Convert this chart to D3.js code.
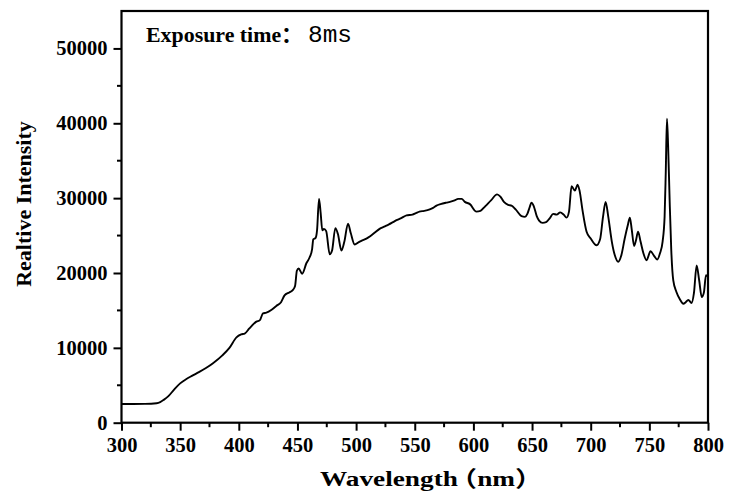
<!DOCTYPE html>
<html><head><meta charset="utf-8">
<script src="https://cdn.jsdelivr.net/npm/d3@7"></script>
<style>
body{margin:0;background:#fff;}
svg{display:block;}
text{font-family:"Liberation Serif","Times New Roman",serif;font-weight:bold;fill:#000;}
</style></head>
<body><svg id="c" width="730" height="493"></svg>
<script>
// Wavelength (nm)
const wavelength = [300,310,320,330,333,336,340,345,350,355,360,366,372,378,386,392,398,402,405,409,415,418,420.6,423.5,428,432,436,439,443,446,448,449.5,451,454,457.6,460.4,462.5,463.5,465.5,466.7,468.4,469.8,471.2,472.6,474.5,477.5,479.5,482.3,484.5,487.5,490,493.1,495.5,498.8,502,504.5,508.8,512,516,520,524,528,531.5,535,538,543,548,551,554,558,562.8,565.6,568.5,572,577,580,584,587,590,592.7,597,602.6,606,610,615,620.2,623,626,629.6,632.5,636,641,644,646,648,649.5,651.5,654,656,659,662,665,668,671,674,677,679.4,681.5,683.7,686.5,688.8,690.5,693,696.5,700,705,708,710.5,712.7,715,718,720.5,723.5,726,729,731.5,733.4,735,737,738.5,740.4,742.5,745,747.6,751,754,756.8,759,761.3,763,764,765,766,767.3,768.7,770.4,773,776,779,781,783.2,786,788,790.3,792.5,794.6,796.5,798.3,800];
// Relative intensity
const intensity = [2500,2500,2510,2600,2750,3050,3550,4450,5250,5800,6250,6750,7300,7950,9000,10000,11400,11800,11900,12600,13500,13700,14600,14700,15100,15600,16100,17000,17400,17700,18300,20300,20600,19900,21300,22100,23200,24500,24700,25700,29900,28000,25700,25900,25600,22500,23000,26000,25200,23000,24200,26600,25300,23800,24100,24300,24600,24900,25400,25900,26200,26500,26800,27100,27300,27700,27800,28000,28200,28300,28500,28700,29000,29200,29400,29500,29700,29900,29900,29500,29200,28200,28300,28900,29700,30500,30200,29500,29100,29000,28500,27600,27500,27900,28800,29400,28900,27600,27000,26700,26800,27300,27900,27800,28100,27800,27400,28200,31600,31000,31800,31000,28400,25500,24600,23700,24500,27500,29500,27500,24200,22400,21500,22300,24600,26300,27400,25800,23600,24300,25500,24200,22600,21700,22900,22300,21800,22600,24200,27500,33500,40600,37000,29700,23000,19000,17500,16500,15900,16100,16400,16000,17300,21000,19000,16800,17400,19700,19500];
const xTicks = [300,350,400,450,500,550,600,650,700,750,800];
const yTicks = [0,10000,20000,30000,40000,50000];
const xLabel = "Wavelength（nm）";
const yLabel = "Realtive Intensity";
const titleMain = "Exposure time：";
const titleVal = "8ms";

const svg = d3.select("#c");
const L=121.5, R=708, T=11, B=422.7;
const x = d3.scaleLinear().domain([300,800]).range([L,R]);
const y = d3.scaleLinear().domain([0,55000]).range([B,T]);

// minor ticks
const g = svg.append("g");
g.selectAll(".xm").data(d3.range(325,800,50)).enter().append("line")
 .attr("x1",d=>x(d)).attr("x2",d=>x(d)).attr("y1",B).attr("y2",B+4.5)
 .attr("stroke","#000").attr("stroke-width",2);
g.selectAll(".ym").data(d3.range(5000,55000,10000)).enter().append("line")
 .attr("y1",d=>y(d)).attr("y2",d=>y(d)).attr("x1",L).attr("x2",L-4.5)
 .attr("stroke","#000").attr("stroke-width",2);

const xa = svg.append("g").attr("transform",`translate(0,${B})`)
 .call(d3.axisBottom(x).tickValues(xTicks).tickSize(8).tickPadding(6.5).tickFormat(d3.format("d")));
const ya = svg.append("g").attr("transform",`translate(${L},0)`)
 .call(d3.axisLeft(y).tickValues(yTicks).tickSize(8).tickPadding(6).tickFormat(d3.format("d")));
[xa,ya].forEach(a=>{
  a.select(".domain").remove();
  a.selectAll("line").attr("stroke","#000").attr("stroke-width",2);
  a.selectAll("text").style("font-family","Liberation Serif, serif").style("font-weight","bold").style("font-size","20.5px").attr("fill","#000");
});
// frame
svg.append("rect").attr("x",L).attr("y",T).attr("width",R-L).attr("height",B-T)
 .attr("fill","none").attr("stroke","#000").attr("stroke-width",2.2);

const line = d3.line().x(d=>x(d[0])).y(d=>y(d[1])).curve(d3.curveMonotoneX);
svg.append("path").datum(wavelength.map((w,i)=>[w,intensity[i]]))
 .attr("d",line).attr("fill","none").attr("stroke","#000").attr("stroke-width",1.9).attr("stroke-linejoin","round");

svg.append("text").attr("x",146).attr("y",42).style("font-size","21px")
 .style("font-family","Liberation Serif, Noto Sans CJK SC, serif")
 .attr("textLength",157).attr("lengthAdjust","spacingAndGlyphs").text(titleMain);
svg.append("text").attr("x",308).attr("y",42).style("font-size","23px")
 .style("font-family","Liberation Mono, monospace").style("font-weight","normal")
 .attr("textLength",44).attr("lengthAdjust","spacingAndGlyphs").text(titleVal);

const parenIdx = xLabel.indexOf("（");
svg.append("text").attr("transform","translate(320,486) scale(1.24,1)").attr("x",0).attr("y",0)
 .style("font-size","22px")
 .style("font-family","Liberation Serif, Noto Sans CJK SC, serif")
 .attr("dx", Array.from(xLabel).map((c,i)=> i===parenIdx ? -6.5 : 0).join(" "))
 .text(xLabel);
svg.append("text").attr("transform","translate(30.5,204) rotate(-90)").attr("text-anchor","middle").style("font-size","22px").text(yLabel);
</script></body></html>
